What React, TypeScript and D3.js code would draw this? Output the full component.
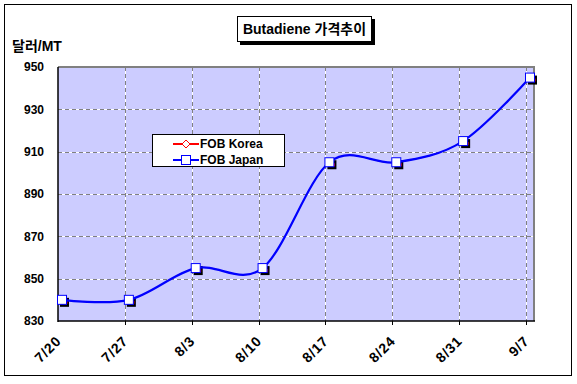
import React from "react";
import * as d3 from "d3";

const categories = ["7/20", "7/27", "8/3", "8/10", "8/17", "8/24", "8/31", "9/7"];
const fobKorea = [840, 840, 855, 855, 905, 905, 915, 945];
const fobJapan = [840, 840, 855, 855, 905, 905, 915, 945];
const yTicks = [830, 850, 870, 890, 910, 930, 950];
const seriesNames = ["FOB Korea", "FOB Japan"];
const title = "Butadiene 가격추이";
const yUnit = "달러/MT";

const W = 577;
const H = 384;
const plot = { left: 58, right: 534, top: 67, bottom: 321 };
const FONT = "'Liberation Sans', Arial, 'Noto Sans CJK KR', sans-serif";

export default function App() {
  const x = d3.scalePoint<string>().domain(categories).range([62, 530]);
  const y = d3.scaleLinear().domain([830, 950]).range([plot.bottom, plot.top]);
  const gridOffset = 4;

  const line = d3
    .line<number>()
    .x((_, i) => x(categories[i]) as number)
    .y((d) => y(d))
    .curve(d3.curveCardinal.tension(0));

  const legendX = 152;
  const legendY = 134;

  return (
    <svg
      width={W}
      height={H}
      style={{ position: "absolute", left: 0, top: 0, background: "#fff" }}
      fontFamily={FONT}
    >
      {/* outer frame */}
      <rect x={4.5} y={4.5} width={567} height={371} fill="#fff" stroke="#000" strokeWidth={1} />

      {/* title box */}
      <rect x={240} y={19} width={135} height={26} fill="#000" />
      <rect x={237.5} y={16.5} width={134} height={25} fill="#fff" stroke="#000" strokeWidth={1} />
      <text x={304.5} y={34} textAnchor="middle" fontSize={14} fontWeight="bold" fill="#000">
        {title}
      </text>

      {/* y unit */}
      <text x={12} y={51} fontSize={14} fontWeight="bold" fill="#000">
        {yUnit}
      </text>

      {/* plot background */}
      <rect
        x={plot.left}
        y={plot.top}
        width={plot.right - plot.left}
        height={plot.bottom - plot.top}
        fill="#CCCCFF"
      />

      {/* horizontal gridlines */}
      {yTicks.slice(1, -1).map((t) => (
        <g key={"h" + t}>
          <line x1={plot.left} x2={plot.right} y1={Math.round(y(t)) + 0.5} y2={Math.round(y(t)) + 0.5} stroke="#fff" strokeWidth={1} />
          <line
            x1={plot.left}
            x2={plot.right}
            y1={Math.round(y(t)) + 0.5}
            y2={Math.round(y(t)) + 0.5}
            stroke="#808080"
            strokeWidth={1}
            strokeDasharray="4,3"
          />
        </g>
      ))}

      {/* vertical gridlines */}
      {categories.slice(1).map((c) => {
        const gx = Math.round((x(c) as number) - gridOffset) + 0.5;
        return (
          <g key={"v" + c}>
            <line x1={gx} x2={gx} y1={plot.top} y2={plot.bottom} stroke="#fff" strokeWidth={1} />
            <line x1={gx} x2={gx} y1={plot.top} y2={plot.bottom} stroke="#808080" strokeWidth={1} strokeDasharray="4,3" />
          </g>
        );
      })}

      {/* plot border: top & right gray */}
      <line x1={plot.left} x2={plot.right + 1} y1={plot.top} y2={plot.top} stroke="#808080" strokeWidth={2} />
      <line x1={plot.right} x2={plot.right} y1={plot.top} y2={plot.bottom} stroke="#808080" strokeWidth={2} />
      {/* axes */}
      <line x1={plot.left} x2={plot.left} y1={plot.top} y2={plot.bottom + 1} stroke="#000" strokeWidth={1.5} />
      <line x1={plot.left} x2={plot.right + 1} y1={plot.bottom} y2={plot.bottom} stroke="#000" strokeWidth={1.5} />
      {categories.slice(1).map((c) => {
        const gx = Math.round((x(c) as number) - gridOffset) + 0.5;
        return <line key={"tk" + c} x1={gx} x2={gx} y1={plot.bottom} y2={plot.bottom + 4} stroke="#000" strokeWidth={1} />;
      })}

      {/* y tick labels */}
      {yTicks.map((t) => (
        <text key={"yt" + t} x={44} y={y(t)} dy="0.36em" textAnchor="end" fontSize={12} fontWeight="bold" fill="#000">
          {t}
        </text>
      ))}

      {/* x tick labels */}
      {categories.map((c) => {
        const lx = x(c) as number;
        const ly = 342;
        return (
          <g key={"xt" + c} transform={`translate(${lx},${ly}) rotate(-45)`}>
            <text x={0} y={0} textAnchor="end" fontSize={14} fontWeight="bold" letterSpacing={0.8} fill="#000">
              {c}
            </text>
          </g>
        );
      })}

      {/* FOB Korea series (hidden beneath Japan) */}
      <path d={line(fobKorea) || ""} fill="none" stroke="#FF0000" strokeWidth={0.8} />
      {fobKorea.map((v, i) => {
        const cx = x(categories[i]) as number;
        const cy = y(v);
        return (
          <g key={"k" + i}>
            <rect x={cx - 2} y={cy - 2} width={9} height={9} fill="#000" />
            <line x1={cx + 5} x2={cx + 5} y1={cy + 1} y2={cy + 4} stroke="#FF0000" strokeWidth={1} />
          </g>
        );
      })}

      {/* FOB Japan series */}
      <path d={line(fobJapan) || ""} fill="none" stroke="#0000FF" strokeWidth={2.2} />
      {fobJapan.map((v, i) => {
        const cx = x(categories[i]) as number;
        const cy = y(v);
        return (
          <rect key={"j" + i} x={cx - 4.5} y={cy - 4.5} width={9} height={9} fill="#fff" stroke="#0000FF" strokeWidth={1} />
        );
      })}

      {/* legend */}
      <rect x={legendX + 0.5} y={legendY + 0.5} width={132} height={32} fill="#fff" stroke="#000" strokeWidth={1} />
      {seriesNames.map((name, i) => {
        const cy = legendY + 10 + i * 16;
        const color = i === 0 ? "#FF0000" : "#0000FF";
        return (
          <g key={"lg" + i}>
            <line x1={legendX + 21} x2={legendX + 47} y1={cy} y2={cy} stroke={color} strokeWidth={2} />
            {i === 0 ? (
              <path
                d={`M${legendX + 34},${cy - 4}L${legendX + 38},${cy}L${legendX + 34},${cy + 4}L${legendX + 30},${cy}Z`}
                fill="#fff"
                stroke={color}
                strokeWidth={1}
              />
            ) : (
              <rect x={legendX + 29.5} y={cy - 4.5} width={9} height={9} fill="#fff" stroke={color} strokeWidth={1} />
            )}
            <text x={legendX + 48} y={cy} dy="0.36em" fontSize={12} fontWeight="bold" fill="#000">
              {name}
            </text>
          </g>
        );
      })}
    </svg>
  );
}
